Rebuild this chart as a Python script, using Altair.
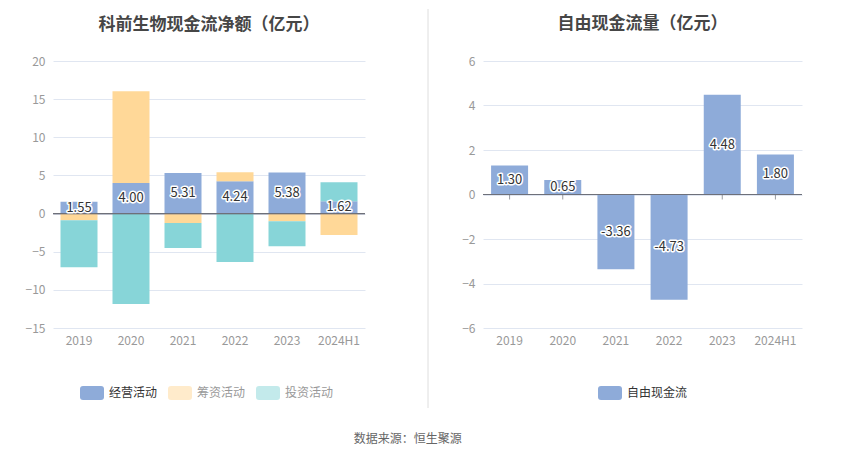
import altair as alt
import pandas as pd

years = ["2019", "2020", "2021", "2022", "2023", "2024H1"]
series = ["经营活动", "筹资活动", "投资活动"]
operating = [1.55, 4.00, 5.31, 4.24, 5.38, 1.62]
financing = [-0.87, 12.05, -1.22, 1.18, -1.00, -2.80]
investing = [-6.17, -11.86, -3.28, -6.34, -3.28, 2.49]
fcf = [1.30, 0.65, -3.36, -4.73, 4.48, 1.80]
colors = ["#8eabd9", "#ffd898", "#87d5d8"]
blue = "#8eabd9"

FONT = "Noto Sans CJK SC"

rows = []
for i, yr in enumerate(years):
    for k, (s, vals) in enumerate(zip(series, [operating, financing, investing])):
        rows.append({"year": yr, "series": s, "value": vals[i], "order": k})
left_df = pd.DataFrame(rows)
op_df = pd.DataFrame({"year": years, "value": operating,
                      "label": [f"{v:.2f}" for v in operating]})
fcf_df = pd.DataFrame({"year": years, "value": fcf, "series": ["自由现金流"] * len(years),
                       "label": [f"{v:.2f}" for v in fcf]})

rect_path = ("M-0.75,-0.583H0.75Q1,-0.583,1,-0.333V0.333Q1,0.583,0.75,0.583"
             "H-0.75Q-1,0.583,-1,0.333V-0.333Q-1,-0.583,-0.75,-0.583Z")

x_axis = alt.Axis(title=None, labelAngle=0, domain=False, ticks=False, grid=False,
                  labelColor="#999999", labelFontSize=12, labelPadding=7, labelFont=FONT)


def y_axis(step_vals):
    return alt.Axis(title=None, values=step_vals, domain=False, ticks=False, grid=True,
                    gridColor="#e0e6f1", gridWidth=1, labelColor="#999999", labelFontSize=12,
                    labelPadding=8, minExtent=40, maxExtent=40, labelFont=FONT,
                    labelOverlap=False)


def legend(label_color, sym_opacity, lx):
    return alt.Legend(title=None, orient="none", legendX=lx, legendY=320,
                      direction="horizontal",
                      symbolType=rect_path, symbolSize=576, symbolStrokeWidth=0,
                      symbolOpacity=sym_opacity,
                      labelFontSize=12, labelFont=FONT, labelColor=label_color,
                      columnPadding=10, labelOffset=5)


def title(text, offset):
    return alt.TitleParams(text, fontSize=17, fontWeight="bold", color="#464646",
                           font=FONT, anchor="middle", offset=offset)


# ---------- left chart ----------
l_scale = alt.Scale(domain=[-15, 20], nice=False)
l_axis = y_axis([-15, -10, -5, 0, 5, 10, 15, 20])
lx = alt.X("year:N", sort=years, axis=x_axis)

left_bars = alt.Chart(left_df).mark_bar(size=37).encode(
    x=lx,
    y=alt.Y("value:Q", stack="zero", scale=l_scale, axis=l_axis),
    color=alt.Color("series:N", sort=series,
                    scale=alt.Scale(domain=series, range=colors),
                    legend=legend({"expr": "datum.value == '经营活动' ? '#333333' : '#999999'"},
                                  {"expr": "datum.value == '经营活动' ? 1 : 0.5"}, 27)),
    order=alt.Order("order:Q"),
)

left_zero = alt.Chart(op_df).mark_rule(color="#6e7079", strokeWidth=1).encode(
    y=alt.Y(datum=0, scale=l_scale, axis=l_axis))

left_halo = alt.Chart(op_df).transform_calculate(value="datum.value / 2").mark_text(
    fontSize=13, font=FONT, stroke="white", strokeWidth=3, strokeJoin="round",
    fill="white", baseline="middle").encode(
    x=lx, y=alt.Y("value:Q", scale=l_scale, axis=l_axis), text="label:N")
left_text = alt.Chart(op_df).transform_calculate(value="datum.value / 2").mark_text(
    fontSize=13, font=FONT, color="#333333", baseline="middle").encode(
    x=lx, y=alt.Y("value:Q", scale=l_scale, axis=l_axis), text="label:N")

divider = alt.Chart(op_df).mark_rule(color="#eeeeee", strokeWidth=1).encode(
    x=alt.value(375), y=alt.value(-52), y2=alt.value(347))

left = alt.layer(left_bars, divider, left_zero, left_halo, left_text).properties(
    width=312, height=267, title=title("科前生物现金流净额（亿元）", -25))

# ---------- right chart ----------
r_scale = alt.Scale(domain=[-6, 6], nice=False)
r_axis = y_axis([-6, -4, -2, 0, 2, 4, 6])
rx = alt.X("year:N", sort=years, axis=x_axis)

right_bars = alt.Chart(fcf_df).mark_bar(size=37).encode(
    x=rx,
    y=alt.Y("value:Q", scale=r_scale, axis=r_axis),
    color=alt.Color("series:N", scale=alt.Scale(domain=["自由现金流"], range=[blue]),
                    legend=legend("#333333", 1, 115)),
)
right_ticks = alt.Chart(fcf_df).transform_filter("datum.value > 0").mark_tick(
    orient="vertical", size=5, thickness=1, color="#6e7079", yOffset=2.5).encode(
    x=rx, y=alt.Y(datum=0, scale=r_scale, axis=r_axis))
right_zero = alt.Chart(fcf_df).mark_rule(color="#6e7079", strokeWidth=1).encode(
    y=alt.Y(datum=0, scale=r_scale, axis=r_axis))
right_halo = alt.Chart(fcf_df).transform_calculate(value="datum.value / 2").mark_text(
    fontSize=13, font=FONT, stroke="white", strokeWidth=3, strokeJoin="round",
    fill="white", baseline="middle").encode(
    x=rx, y=alt.Y("value:Q", scale=r_scale, axis=r_axis), text="label:N")
right_text = alt.Chart(fcf_df).transform_calculate(value="datum.value / 2").mark_text(
    fontSize=13, font=FONT, color="#333333", baseline="middle").encode(
    x=rx, y=alt.Y("value:Q", scale=r_scale, axis=r_axis), text="label:N")

right = alt.layer(right_bars, right_ticks, right_zero, right_halo, right_text).properties(
    width=319, height=267, title=title("自由现金流量（亿元）", 22))

chart = alt.hconcat(left, right, spacing=118, bounds="flush").resolve_scale(
    color="independent", y="independent", x="independent"
).properties(
    padding={"top": 0, "left": 5, "right": 5, "bottom": 5},
    title=alt.TitleParams("数据来源：恒生聚源", orient="bottom", anchor="middle",
                          fontSize=12, fontWeight="normal", color="#666666", font=FONT,
                          offset=25),
).configure_view(stroke=None)

chart.save("out.html", embed_options={"renderer": "svg", "actions": False})
